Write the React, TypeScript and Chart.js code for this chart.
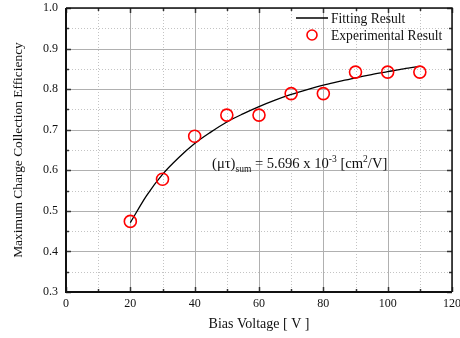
import React, { useEffect, useRef } from "react";
import { Chart, registerables } from "chart.js";

Chart.register(...registerables);

// Experimental data
const biasVoltage = [20, 30, 40, 50, 60, 70, 80, 90, 100, 110];
const efficiency = [0.474, 0.578, 0.684, 0.736, 0.736, 0.789, 0.789, 0.842, 0.842, 0.842];

// Fitted (Hecht) curve
const fitVoltage = [20, 25, 30, 35, 40, 45, 50, 55, 60, 65, 70, 75, 80, 85, 90, 95, 100, 105, 110];
const fitEfficiency = [0.471, 0.537, 0.590, 0.631, 0.666, 0.694, 0.719, 0.739, 0.757, 0.773, 0.787, 0.799, 0.810, 0.819, 0.828, 0.836, 0.843, 0.850, 0.856];

// Axis ticks
const xMajor = [0, 20, 40, 60, 80, 100, 120];
const xMinor = [10, 30, 50, 70, 90, 110];
const yMajor = [0.3, 0.4, 0.5, 0.6, 0.7, 0.8, 0.9, 1.0];
const yMinor = [0.35, 0.45, 0.55, 0.65, 0.75, 0.85, 0.95];

const legendLabels = ["Fitting Result", "Experimental Result"];
const xTitle = "Bias Voltage [ V ]";
const yTitle = "Maximum Charge Collection Efficiency";

const SERIF = "'Liberation Serif', 'Times New Roman', serif";

const framePlugin = {
  id: "framePlugin",
  beforeDatasetsDraw(chart: any) {
    const { ctx, chartArea, scales } = chart;
    const { left, right, top, bottom } = chartArea;
    const x = scales.x, y = scales.y;
    ctx.save();
    ctx.lineWidth = 1;
    // minor dotted grid
    ctx.strokeStyle = "#c4c4c4";
    ctx.setLineDash([1, 2]);
    xMinor.forEach((v) => {
      const px = Math.round(x.getPixelForValue(v)) + 0.5;
      ctx.beginPath(); ctx.moveTo(px, top); ctx.lineTo(px, bottom); ctx.stroke();
    });
    yMinor.forEach((v) => {
      const py = Math.round(y.getPixelForValue(v)) + 0.5;
      ctx.beginPath(); ctx.moveTo(left, py); ctx.lineTo(right, py); ctx.stroke();
    });
    // major solid grid
    ctx.setLineDash([]);
    ctx.strokeStyle = "#b0b0b0";
    xMajor.forEach((v) => {
      const px = Math.round(x.getPixelForValue(v)) + 0.5;
      ctx.beginPath(); ctx.moveTo(px, top); ctx.lineTo(px, bottom); ctx.stroke();
    });
    yMajor.forEach((v) => {
      const py = Math.round(y.getPixelForValue(v)) + 0.5;
      ctx.beginPath(); ctx.moveTo(left, py); ctx.lineTo(right, py); ctx.stroke();
    });
    ctx.restore();
  },
  afterDatasetsDraw(chart: any) {
    const { ctx, chartArea, scales } = chart;
    const { left, right, top, bottom } = chartArea;
    const x = scales.x, y = scales.y;
    ctx.save();
    // tick marks inward
    ctx.strokeStyle = "#333";
    ctx.lineWidth = 1.5;
    const tickX = (vals: number[], len: number) => vals.forEach((v) => {
      const px = Math.round(x.getPixelForValue(v)) + 0.5;
      ctx.beginPath(); ctx.moveTo(px, bottom); ctx.lineTo(px, bottom - len); ctx.stroke();
      ctx.beginPath(); ctx.moveTo(px, top); ctx.lineTo(px, top + len); ctx.stroke();
    });
    const tickY = (vals: number[], len: number) => vals.forEach((v) => {
      const py = Math.round(y.getPixelForValue(v)) + 0.5;
      ctx.beginPath(); ctx.moveTo(left, py); ctx.lineTo(left + len, py); ctx.stroke();
      ctx.beginPath(); ctx.moveTo(right, py); ctx.lineTo(right - len, py); ctx.stroke();
    });
    tickX(xMajor, 5); tickX(xMinor, 3);
    tickY(yMajor, 5); tickY(yMinor, 3);
    // frame
    ctx.strokeStyle = "#111";
    ctx.lineWidth = 1.5;
    ctx.beginPath(); ctx.moveTo(left, top); ctx.lineTo(right, top); ctx.lineTo(right, bottom); ctx.stroke();
    ctx.lineWidth = 2;
    ctx.beginPath(); ctx.moveTo(left, top); ctx.lineTo(left, bottom); ctx.lineTo(right, bottom); ctx.stroke();
    ctx.restore();
  },
  afterDraw(chart: any) {
    const { ctx, chartArea, scales } = chart;
    const { left, right, top, bottom } = chartArea;
    const x = scales.x, y = scales.y;
    ctx.save();
    ctx.fillStyle = "#111";
    // axis titles
    ctx.textAlign = "center";
    ctx.textBaseline = "middle";
    ctx.font = `14px ${SERIF}`;
    ctx.fillText(xTitle, (left + right) / 2, bottom + 32);
    ctx.save();
    ctx.font = `13.4px ${SERIF}`;
    ctx.translate(18, (top + bottom) / 2);
    ctx.rotate(-Math.PI / 2);
    ctx.fillText(yTitle, 0, 0);
    ctx.restore();

    // legend
    ctx.textAlign = "left";
    ctx.textBaseline = "alphabetic";
    ctx.font = `13.6px ${SERIF}`;
    const lx0 = right - 156, lx1 = right - 124;
    const ly1 = top + 10, ly2 = top + 27;
    ctx.strokeStyle = "#000";
    ctx.lineWidth = 1.5;
    ctx.beginPath(); ctx.moveTo(lx0, ly1); ctx.lineTo(lx1, ly1); ctx.stroke();
    ctx.fillText(legendLabels[0], right - 121, ly1 + 5);
    ctx.strokeStyle = "#ff0000";
    ctx.lineWidth = 1.6;
    ctx.beginPath(); ctx.arc((lx0 + lx1) / 2, ly2, 5, 0, Math.PI * 2); ctx.stroke();
    ctx.fillText(legendLabels[1], right - 121, ly2 + 5);

    // annotation
    let ax = x.getPixelForValue(45.4);
    const ab = y.getPixelForValue(0.605);
    const big = `14.6px ${SERIF}`;
    const small = `9.5px ${SERIF}`;
    const parts: [string, string, number][] = [
      ["(\u03bc\u03c4)", big, 0],
      ["sum", small, 4],
      [" = 5.696 x 10", big, 0],
      ["-3", small, -6],
      [" [cm", big, 0],
      ["2", small, -6],
      ["/V]", big, 0],
    ];
    parts.forEach(([t, f, dy]) => {
      ctx.font = f;
      ctx.fillText(t, ax, ab + dy);
      ax += ctx.measureText(t).width;
    });
    ctx.restore();
  },
};

export default function App() {
  const ref = useRef<HTMLCanvasElement | null>(null);
  useEffect(() => {
    document.body.style.margin = "0";
    if (!ref.current) return;
    const chart = new Chart(ref.current, {
      type: "scatter",
      data: {
        datasets: [
          {
            type: "line",
            label: legendLabels[0],
            data: fitVoltage.map((v, i) => ({ x: v, y: fitEfficiency[i] })),
            borderColor: "#000",
            borderWidth: 1.3,
            pointRadius: 0,
            fill: false,
            cubicInterpolationMode: "monotone",
            order: 2,
          } as any,
          {
            type: "scatter",
            label: legendLabels[1],
            data: biasVoltage.map((v, i) => ({ x: v, y: efficiency[i] })),
            borderColor: "#ff0000",
            backgroundColor: "rgba(0,0,0,0)",
            borderWidth: 1.6,
            pointRadius: 6,
            pointHoverRadius: 6,
            order: 1,
          },
        ],
      },
      options: {
        animation: false,
        responsive: false,
        devicePixelRatio: 1,
        layout: { padding: { top: 8, right: 8, left: 0, bottom: 0 } },
        plugins: { legend: { display: false }, tooltip: { enabled: false } },
        scales: {
          x: {
            type: "linear",
            min: 0,
            max: 120,
            grid: { display: false, drawTicks: false, tickLength: 0 },
            border: { display: false },
            ticks: {
              stepSize: 20,
              padding: 5,
              color: "#111",
              font: { family: SERIF, size: 12 },
              maxRotation: 0,
            },
            afterFit: (s: any) => {
              s.height = 46;
              s.paddingLeft = 0;
              s.paddingRight = 0;
            },
          },
          y: {
            type: "linear",
            min: 0.3,
            max: 1.0,
            grid: { display: false, drawTicks: false, tickLength: 0 },
            border: { display: false },
            ticks: {
              stepSize: 0.1,
              padding: 8,
              color: "#111",
              font: { family: SERIF, size: 12 },
              callback: (v: any) => Number(v).toFixed(1),
            },
            afterFit: (s: any) => {
              s.width = 66;
              s.paddingTop = 0;
              s.paddingBottom = 0;
            },
          },
        },
      },
      plugins: [framePlugin],
    });
    return () => chart.destroy();
  }, []);
  return (
    <div style={{ width: 460, height: 338 }}>
      <canvas ref={ref} width={460} height={338} style={{ display: "block" }} />
    </div>
  );
}
